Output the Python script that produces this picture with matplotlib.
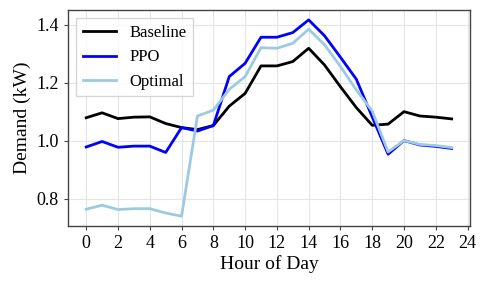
import matplotlib
matplotlib.use("Agg")
import matplotlib.pyplot as plt

hours = list(range(24))
baseline = [1.079, 1.096, 1.076, 1.081, 1.082, 1.059, 1.045, 1.038, 1.052, 1.119, 1.163, 1.258,
            1.258, 1.273, 1.319, 1.261, 1.186, 1.114, 1.053, 1.057, 1.100, 1.085, 1.081, 1.075]
ppo = [0.978, 0.997, 0.977, 0.981, 0.981, 0.959, 1.045, 1.033, 1.052, 1.221, 1.267, 1.357,
       1.357, 1.373, 1.417, 1.362, 1.288, 1.212, 1.082, 0.953, 1.000, 0.985, 0.980, 0.973]
optimal = [0.763, 0.777, 0.762, 0.765, 0.765, 0.750, 0.739, 1.085, 1.105, 1.177, 1.221, 1.321,
           1.319, 1.336, 1.385, 1.331, 1.256, 1.175, 1.102, 0.961, 1.000, 0.987, 0.983, 0.976]
xticks = list(range(0, 25, 2))
yticks = [0.8, 1.0, 1.2, 1.4]

plt.rcParams['font.family'] = ['Liberation Serif', 'DejaVu Serif']
fig = plt.figure(figsize=(4.89, 2.87), dpi=100)
ax = fig.add_axes([0.139, 0.2125, 0.822, 0.7525])
ax.plot(hours, baseline, color='black', lw=2, label='Baseline')
ax.plot(hours, ppo, color='#0000ff', lw=2, label='PPO')
ax.plot(hours, optimal, color='#9ecae1', lw=2, label='Optimal')
ax.set_xticks(xticks)
ax.set_yticks(yticks)
ax.set_yticklabels(['0.8', '1.0', '1.2', '1.4'])
ax.grid(True, color='#e5e5e5', lw=0.8)
ax.set_axisbelow(True)
for s in ax.spines.values():
    s.set_color('#444444')
    s.set_linewidth(1.0)
ax.tick_params(labelsize=13, length=3, color='#444444')
ax.set_xlabel('Hour of Day', fontsize=14, labelpad=2)
ax.set_ylabel('Demand (kW)', fontsize=14, labelpad=4)
ax.legend(loc='upper left', fontsize=12, frameon=True, fancybox=False, edgecolor='#cccccc',
          handlelength=2.0)
fig.savefig('out.png', dpi=100)
